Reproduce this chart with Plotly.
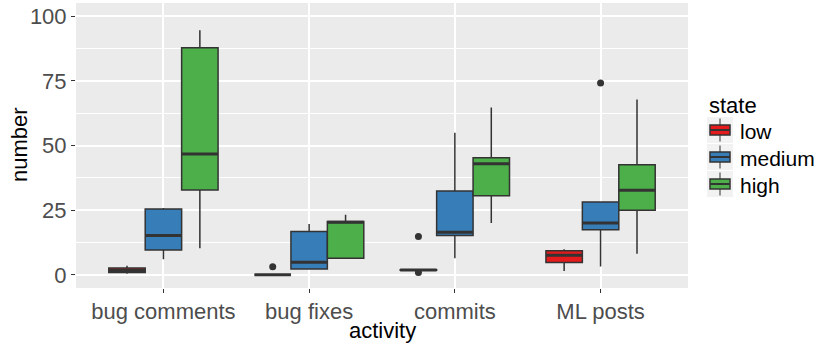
import plotly.graph_objects as go

categories = ["bug comments", "bug fixes", "commits", "ML posts"]
states = ["low", "medium", "high"]
colors = ["#E41A1C", "#377EB8", "#4DAF4A"]

# precomputed box statistics per state (one value per activity)
low_q1 = [0.9, 0.0, 1.8, 4.8]
low_median = [1.7, 0.0, 1.9, 7.6]
low_q3 = [2.6, 0.0, 2.0, 9.3]
low_lower = [0.4, 0.0, 1.8, 1.5]
low_upper = [3.5, 0.0, 2.0, 9.9]
low_outliers = {"bug fixes": [3.1], "commits": [14.8, 0.9]}

medium_q1 = [9.6, 2.2, 15.2, 17.4]
medium_median = [15.2, 4.9, 16.5, 20.0]
medium_q3 = [25.4, 16.7, 32.4, 28.2]
medium_lower = [6.0, 2.2, 6.4, 3.2]
medium_upper = [25.8, 19.6, 54.9, 28.2]
medium_outliers = {"ML posts": [74.2]}

high_q1 = [32.8, 6.4, 30.6, 25.0]
high_median = [46.7, 20.3, 42.9, 32.7]
high_q3 = [87.8, 20.6, 45.3, 42.6]
high_lower = [10.3, 6.1, 20.0, 8.1]
high_upper = [94.6, 23.2, 64.7, 67.8]
high_outliers = {}

stats = {
    "low": (low_q1, low_median, low_q3, low_lower, low_upper, low_outliers),
    "medium": (medium_q1, medium_median, medium_q3, medium_lower, medium_upper, medium_outliers),
    "high": (high_q1, high_median, high_q3, high_lower, high_upper, high_outliers),
}

W, H = 816, 349
ML, MR, MT, MB = 76, 128, 3, 61
PW, PH = W - ML - MR, H - MT - MB

dodge = 0.25
box_w = 0.25
OUTLINE = "#333333"

fig = go.Figure()
for si, (state, col) in enumerate(zip(states, colors)):
    q1, med, q3, lo, up, outl = stats[state]
    off = (si - 1) * dodge
    xs = [i + 1 + off for i in range(len(categories))]
    fig.add_trace(go.Box(
        name=state, x=xs, q1=q1, median=med, q3=q3,
        lowerfence=lo, upperfence=up,
        width=box_w, fillcolor=col, whiskerwidth=0,
        line=dict(color=OUTLINE, width=1.5),
        boxpoints=False, showlegend=False,
    ))
    mx, my = [], []
    for x, m in zip(xs, med):
        mx += [x - box_w / 2, x + box_w / 2, None]
        my += [m, m, None]
    fig.add_trace(go.Scatter(x=mx, y=my, mode="lines",
                             line=dict(color=OUTLINE, width=3),
                             showlegend=False, hoverinfo="skip"))
    ox, oy = [], []
    for ci, cat in enumerate(categories):
        for v in outl.get(cat, []):
            ox.append(ci + 1 + off)
            oy.append(v)
    if ox:
        fig.add_trace(go.Scatter(x=ox, y=oy, mode="markers",
                                 marker=dict(color=OUTLINE, size=7),
                                 showlegend=False, hoverinfo="skip"))

# ---- pixel -> paper helpers for legend / titles ----
def px(x):
    return (x - ML) / PW

def py(y):
    return (MT + PH - y) / PH

shapes = []
annotations = []
# axis titles
annotations.append(dict(text="activity", x=px(382), y=py(330), xref="paper", yref="paper",
                        xanchor="center", yanchor="middle", showarrow=False,
                        font=dict(size=22, color="black")))
annotations.append(dict(text="number", x=px(19), y=py(145), xref="paper", yref="paper",
                        xanchor="center", yanchor="middle", showarrow=False, textangle=-90,
                        font=dict(size=22, color="black")))
# legend
annotations.append(dict(text="state", x=px(707), y=py(105.5), xref="paper", yref="paper",
                        xanchor="left", yanchor="middle", showarrow=False,
                        font=dict(size=22, color="black")))
key_left, key_size, row0, row_gap = 707, 26, 130, 27
for i, (state, col) in enumerate(zip(states, colors)):
    cy = row0 + i * row_gap
    shapes.append(dict(type="rect", xref="paper", yref="paper",
                       x0=px(key_left), x1=px(key_left + key_size),
                       y0=py(cy - key_size / 2), y1=py(cy + key_size / 2),
                       fillcolor="#F2F2F2", line=dict(width=0), layer="below"))
    cx = key_left + key_size / 2
    shapes.append(dict(type="line", xref="paper", yref="paper",
                       x0=px(cx), x1=px(cx), y0=py(cy - 11.5), y1=py(cy + 11.5),
                       line=dict(color=OUTLINE, width=1)))
    shapes.append(dict(type="rect", xref="paper", yref="paper",
                       x0=px(cx - 10), x1=px(cx + 10), y0=py(cy - 5), y1=py(cy + 5),
                       fillcolor=col, line=dict(color=OUTLINE, width=1.5)))
    shapes.append(dict(type="line", xref="paper", yref="paper",
                       x0=px(cx - 10), x1=px(cx + 10), y0=py(cy), y1=py(cy),
                       line=dict(color=OUTLINE, width=2)))
    annotations.append(dict(text=state, x=px(738), y=py(cy + 1), xref="paper", yref="paper",
                            xanchor="left", yanchor="middle", showarrow=False,
                            font=dict(size=21, color="black")))

fig.update_layout(
    width=W, height=H,
    margin=dict(l=ML, r=MR, t=MT, b=MB),
    paper_bgcolor="white", plot_bgcolor="#EBEBEB",
    font=dict(family="Liberation Sans, Arial, sans-serif", size=22, color="#4D4D4D"),
    boxmode="overlay",
    showlegend=False,
    shapes=shapes, annotations=annotations,
)
fig.update_xaxes(
    range=[0.4, 4.6], tickmode="array", tickvals=[1, 2, 3, 4], ticktext=categories,
    showgrid=True, gridcolor="white", gridwidth=2, zeroline=False,
    ticks="outside", ticklen=4, tickcolor="#333333", tickwidth=1,
    tickfont=dict(size=22, color="#4D4D4D"),
    showline=False,
)
fig.update_yaxes(
    range=[-5.1, 105.1], tickmode="array", tickvals=[0, 25, 50, 75, 100],
    showgrid=True, gridcolor="white", gridwidth=2, zeroline=False,
    ticks="outside", ticklen=4, tickcolor="#333333", tickwidth=1,
    tickfont=dict(size=22, color="#4D4D4D"),
    minor=dict(tickmode="array", tickvals=[-12.5, 12.5, 37.5, 62.5, 87.5],
               showgrid=True, gridcolor="white", gridwidth=1, ticks=""),
    showline=False,
)

fig.write_html("out.html")
